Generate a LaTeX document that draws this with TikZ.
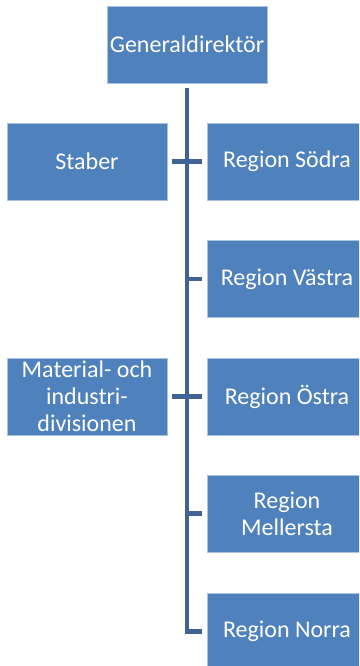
\documentclass[tikz,border=0pt]{standalone}
\usepackage{fontspec}
\setmainfont{Carlito}
\definecolor{boxblue}{RGB}{79,129,189}
\definecolor{boxedge}{RGB}{170,195,225}
\definecolor{linkblue}{RGB}{62,99,148}
\begin{document}
\begin{tikzpicture}[x=1pt,y=-1pt,
  orgbox/.style={rectangle, fill=boxblue, draw=boxedge, line width=0.6pt,
    minimum width=160pt, minimum height=77pt, inner sep=2pt, align=center,
    text=white, font=\fontsize{24}{27}\selectfont},
  link/.style={draw=linkblue, line width=4.5pt}]
\useasboundingbox (0,0) rectangle (359,666);
\clip (0,0) rectangle (359,666);

% head of the organisation
\node[orgbox] (gd) at (187,44.5) {Generaldirektör};

% staff units on the left
\node[orgbox] (staber) at (87,161.5) {Staber};
\node[orgbox] (mat) at (87,396.5) {Material- och\\industri-\\divisionen};

% regions on the right
\node[orgbox] (sodra) at (287,161.5) {Region Södra};
\node[orgbox] (vastra) at (287,279) {Region Västra};
\node[orgbox] (ostra) at (287,396.5) {Region Östra};
\node[orgbox] (mellersta) at (287,513.5) {Region\\Mellersta};
\node[orgbox] (norra) at (287,631.5) {Region Norra};

% spine and branches
\coordinate (spine) at (187,0);
\draw[link] ([yshift=-5pt]gd.south) -- (spine |- norra.west) -- ([xshift=-5pt]norra.west);
\draw[link] ([xshift=5pt]staber.east) -- ([xshift=-5pt]sodra.west);
\draw[link] ([xshift=5pt]mat.east) -- ([xshift=-5pt]ostra.west);
\draw[link] (spine |- vastra.west) -- ([xshift=-5pt]vastra.west);
\draw[link] (spine |- mellersta.west) -- ([xshift=-5pt]mellersta.west);
\end{tikzpicture}
\end{document}
